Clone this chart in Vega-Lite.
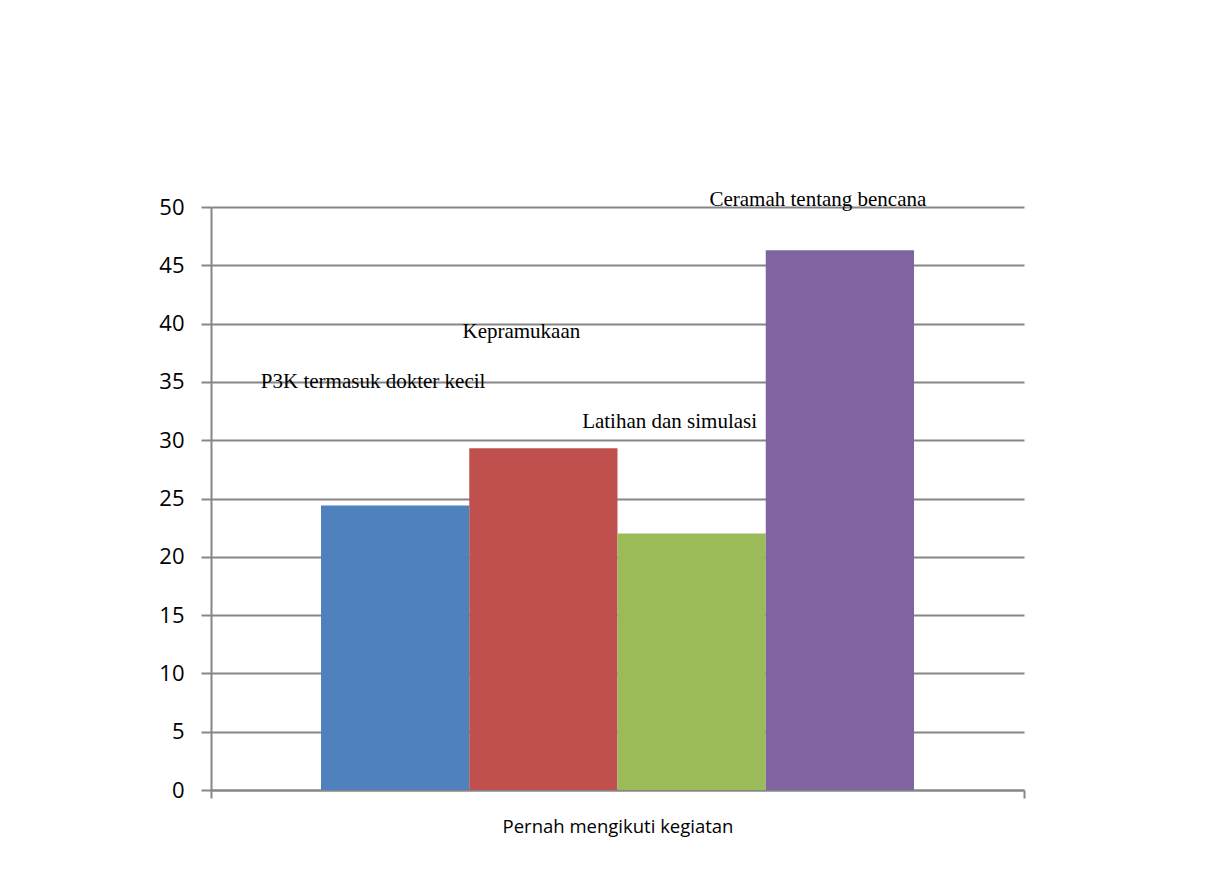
{
  "$schema": "https://vega.github.io/schema/vega-lite/v6.json",
  "width": 813,
  "height": 583,
  "autosize": {"type": "none"},
  "padding": {"left": 211, "top": 207, "right": 182, "bottom": 83},
  "background": "white",
  "data": {
    "values": [
      {"group": "Pernah mengikuti kegiatan", "activity": "P3K termasuk dokter kecil", "value": 24.4, "labelValue": 35.0},
      {"group": "Pernah mengikuti kegiatan", "activity": "Kepramukaan", "value": 29.3, "labelValue": 39.3},
      {"group": "Pernah mengikuti kegiatan", "activity": "Latihan dan simulasi", "value": 22.0, "labelValue": 31.6},
      {"group": "Pernah mengikuti kegiatan", "activity": "Ceramah tentang bencana", "value": 46.3, "labelValue": 50.6}
    ]
  },
  "encoding": {
    "x": {
      "field": "group",
      "type": "nominal",
      "title": null,
      "scale": {"paddingInner": 0, "paddingOuter": 0},
      "axis": {
        "tickBand": "extent",
        "tickSize": 8,
        "tickColor": "#868686",
        "tickWidth": 2,
        "domainColor": "#868686",
        "domainWidth": 2,
        "labelAngle": 0,
        "labelFont": "Open Sans",
        "labelFontSize": 18.5,
        "labelLimit": 600,
        "labelColor": "#000000",
        "labelPadding": 19,
        "grid": false
      }
    },
    "xOffset": {
      "field": "activity",
      "type": "nominal",
      "sort": ["P3K termasuk dokter kecil", "Kepramukaan", "Latihan dan simulasi", "Ceramah tentang bencana"],
      "scale": {"paddingInner": 0, "paddingOuter": 0.742}
    }
  },
  "layer": [
    {
      "mark": {"type": "bar"},
      "encoding": {
        "y": {
          "field": "value",
          "type": "quantitative",
          "title": null,
          "scale": {"domain": [0, 50], "nice": false},
          "axis": {
            "values": [0, 5, 10, 15, 20, 25, 30, 35, 40, 45, 50],
            "tickSize": 10,
            "tickColor": "#868686",
            "tickWidth": 2,
            "domainColor": "#868686",
            "domainWidth": 2,
            "gridColor": "#868686",
            "gridWidth": 2,
            "labelFont": "Open Sans",
            "labelFontSize": 22,
            "labelColor": "#000000",
            "labelPadding": 17
          }
        },
        "color": {
          "field": "activity",
          "type": "nominal",
          "sort": ["P3K termasuk dokter kecil", "Kepramukaan", "Latihan dan simulasi", "Ceramah tentang bencana"],
          "scale": {"range": ["#4F81BD", "#C0504D", "#9BBB59", "#8064A2"]},
          "legend": null
        }
      }
    },
    {
      "mark": {"type": "text", "font": "Liberation Serif", "fontSize": 21, "baseline": "middle", "align": "center", "dx": -22, "color": "#000000"},
      "encoding": {
        "y": {"field": "labelValue", "type": "quantitative"},
        "text": {"field": "activity"}
      }
    }
  ],
  "config": {
    "view": {"stroke": null}
  }
}
